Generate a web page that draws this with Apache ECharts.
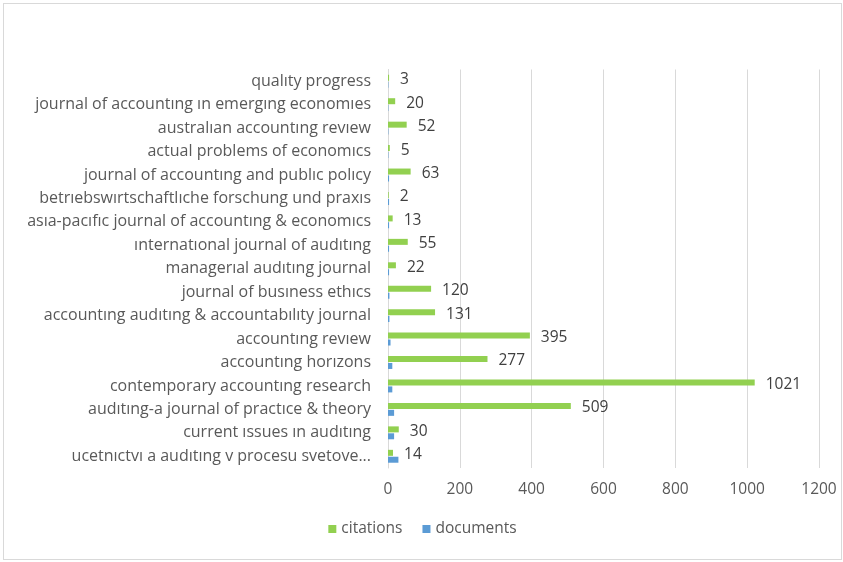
<!DOCTYPE html>
<html><head><meta charset="utf-8">
<script src="https://cdn.jsdelivr.net/npm/echarts@6/dist/echarts.min.js"></script>
<style>html,body{margin:0;padding:0;background:#fff}#c{position:absolute;left:3px;top:3px;width:837px;height:555px;border:1px solid #d9d9d9}</style>
</head><body><div id="c"></div>
<script>
const categories = [
  "qualıty progress",
  "journal of accountıng ın emergıng economıes",
  "australıan accountıng revıew",
  "actual problems of economıcs",
  "journal of accountıng and publıc polıcy",
  "betrıebswırtschaftlıche forschung und praxıs",
  "asıa-pacıfıc journal of accountıng & economıcs",
  "ınternatıonal journal of audıtıng",
  "managerıal audıtıng journal",
  "journal of busıness ethıcs",
  "accountıng audıtıng & accountabılıty journal",
  "accountıng revıew",
  "accountıng horızons",
  "contemporary accountıng research",
  "audıtıng-a journal of practıce & theory",
  "current ıssues ın audıtıng",
  "ucetnıctvı a audıtıng v procesu svetove..."
];
const citations = [3, 20, 52, 5, 63, 2, 13, 55, 22, 120, 131, 395, 277, 1021, 509, 30, 14];
const documents = [1, 1, 1, 1, 3, 3, 3, 3, 3, 4, 4, 7, 12, 12, 17, 17, 29];
const xTicks = [0, 200, 400, 600, 800, 1000, 1200];

const cats = categories.slice().reverse();
const cit = citations.slice().reverse();
const doc = documents.slice().reverse();
const font = "'Open Sans', sans-serif";
const chart = echarts.init(document.getElementById('c'));
chart.setOption({
  animation: false,
  textStyle: {fontFamily: font},
  grid: {left: 384, right: 22, top: 65.5, bottom: 91, containLabel: false},
  legend: {
    data: ['citations', 'documents'], bottom: 17, left: 'center',
    itemWidth: 8, itemHeight: 8, itemGap: 20, icon: 'rect',
    textStyle: {color: '#595959', fontSize: 15.5, fontFamily: font}
  },
  xAxis: {
    type: 'value', min: xTicks[0], max: xTicks[xTicks.length - 1], interval: 200,
    axisLine: {show: false}, axisTick: {show: false},
    splitLine: {lineStyle: {color: '#d9d9d9'}},
    axisLabel: {color: '#595959', fontSize: 15.5, margin: 14, fontFamily: font,
                formatter: v => String(v)}
  },
  yAxis: {
    type: 'category', data: cats,
    axisLine: {lineStyle: {color: '#d9d9d9'}}, axisTick: {show: false},
    axisLabel: {color: '#595959', fontSize: 16, margin: 17, fontFamily: font}
  },
  series: [
    {name: 'citations', type: 'bar', data: cit, barWidth: 6, barGap: '15%',
     itemStyle: {color: '#92d050'},
     label: {show: true, position: 'right', distance: 11, offset: [0, 2],
             color: '#404040', fontSize: 15.5, fontFamily: font}},
    {name: 'documents', type: 'bar', data: doc, barWidth: 6, barGap: '15%',
     itemStyle: {color: '#5b9bd5'}}
  ]
});
</script></body></html>
